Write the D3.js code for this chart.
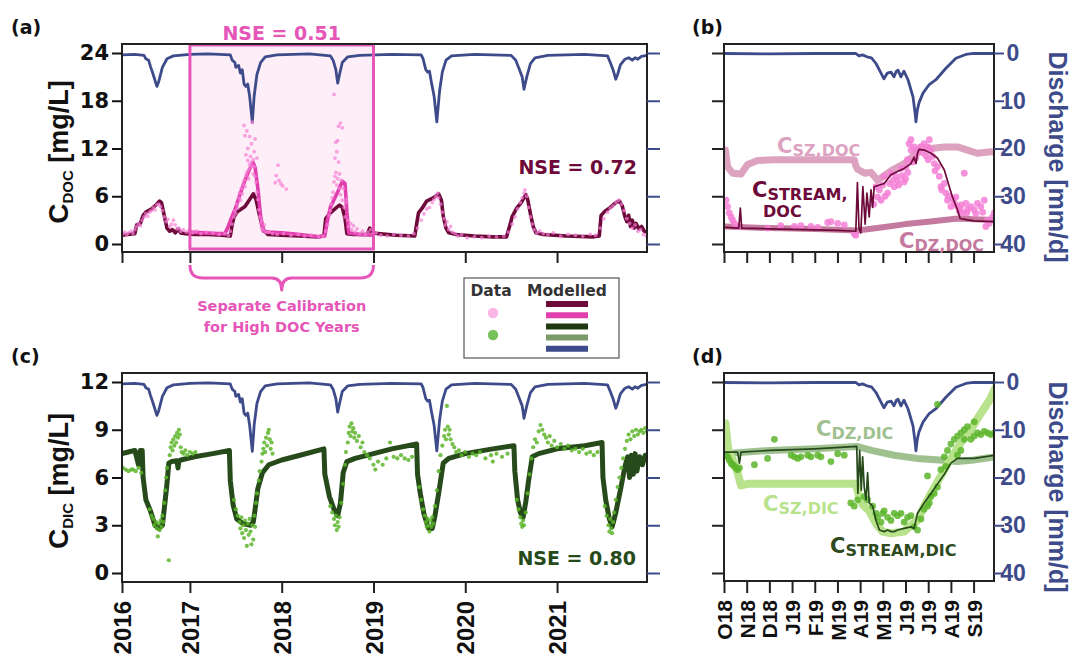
<!DOCTYPE html>
<html>
<head>
<meta charset="utf-8">
<script src="https://cdn.jsdelivr.net/npm/d3@7"></script>
<style>
  body { margin: 0; background: #fff; }
  svg { display: block; }
</style>
</head>
<body>
<svg id="fig" width="1073" height="657"></svg>
<script>
// ---- long record (panels a, c): [decimal year, value] ----
const qLong = [[2016.26,0.4],[2016.40,0.3],[2016.50,0.5],[2016.52,1.2],[2016.55,1.5],[2016.57,2.8],[2016.60,4.5],[2016.64,7.0],[2016.66,6.0],[2016.70,3.0],[2016.75,1.2],[2016.82,0.6],[2017.0,0.3],[2017.2,0.2],[2017.44,0.4],[2017.46,1.5],[2017.49,2.0],[2017.50,3.0],[2017.53,2.6],[2017.55,4.2],[2017.57,3.5],[2017.59,6.5],[2017.61,7.0],[2017.63,6.5],[2017.65,9.0],[2017.68,14.5],[2017.70,9.0],[2017.73,4.5],[2017.77,2.0],[2017.82,0.8],[2017.95,0.4],[2018.3,0.2],[2018.53,0.6],[2018.56,1.5],[2018.59,3.5],[2018.61,6.3],[2018.63,4.5],[2018.66,2.0],[2018.72,0.8],[2018.85,0.5],[2019.2,0.3],[2019.52,0.4],[2019.54,1.2],[2019.57,3.5],[2019.59,4.0],[2019.61,3.8],[2019.63,6.0],[2019.66,9.0],[2019.69,14.4],[2019.72,8.0],[2019.75,4.0],[2019.79,1.5],[2019.85,0.6],[2020.1,0.3],[2020.5,0.5],[2020.55,1.5],[2020.58,3.0],[2020.62,5.0],[2020.64,7.6],[2020.67,5.0],[2020.71,2.2],[2020.76,1.0],[2020.9,0.5],[2021.3,0.3],[2021.55,0.6],[2021.58,2.0],[2021.61,3.5],[2021.64,5.5],[2021.66,4.5],[2021.69,2.5],[2021.74,1.3],[2021.78,1.0],[2021.82,1.5],[2021.85,1.0],[2021.88,1.3],[2021.92,0.7],[2021.98,0.5]];

const docModelCal1 = [[2016.26,1.1],[2016.32,1.2],[2016.40,1.3],[2016.42,2.4],[2016.46,2.6],[2016.49,3.6],[2016.52,4.0],[2016.58,4.4],[2016.63,4.9],[2016.67,5.4],[2016.69,5.2],[2016.72,3.6],[2016.75,2.0],[2016.78,1.6],[2016.81,1.8],[2016.84,1.4],[2016.87,1.9],[2016.90,1.4],[2016.95,1.3],[2017.05,1.2],[2017.20,1.2],[2017.35,1.1],[2017.44,1.0],[2017.46,2.4],[2017.48,3.4],[2017.52,4.1],[2017.56,4.4],[2017.60,4.7],[2017.64,5.4],[2017.69,6.3],[2017.72,5.6],[2017.76,3.5],[2017.80,1.8],[2017.85,1.2],[2018.0,1.1],[2018.2,1.0],[2018.40,0.9],[2018.46,1.0],[2018.48,3.2],[2018.53,3.9],[2018.58,4.4],[2018.63,4.9],[2018.66,4.6],[2018.69,3.2],[2018.71,1.3],[2018.78,1.2],[2018.93,1.2],[2018.96,2.0],[2018.98,1.5],[2019.05,1.3],[2019.25,1.1],[2019.45,1.0],[2019.47,2.5],[2019.49,3.9],[2019.53,4.5],[2019.58,5.4],[2019.65,5.8],[2019.71,6.3],[2019.74,5.5],[2019.76,3.5],[2019.79,2.0],[2019.82,1.4],[2019.90,1.2],[2020.10,1.0],[2020.30,0.9],[2020.45,0.9],[2020.49,2.5],[2020.51,3.4],[2020.56,4.5],[2020.61,5.2],[2020.66,6.2],[2020.68,5.6],[2020.71,3.8],[2020.74,2.2],[2020.77,1.4],[2020.85,1.2],[2021.10,1.0],[2021.40,0.9],[2021.46,1.0],[2021.48,3.6],[2021.52,4.1],[2021.58,4.6],[2021.64,5.2],[2021.68,5.4],[2021.71,4.8],[2021.74,3.4],[2021.76,2.8],[2021.78,3.6],[2021.80,2.2],[2021.82,3.0],[2021.84,2.0],[2021.86,2.6],[2021.89,1.9],[2021.92,2.2],[2021.95,1.6],[2021.98,1.5]];

const docModelCal2 = [[2017.0,1.5],[2017.15,1.4],[2017.30,1.3],[2017.38,1.3],[2017.41,2.0],[2017.45,3.2],[2017.50,4.6],[2017.55,6.4],[2017.60,8.0],[2017.65,9.4],[2017.69,10.2],[2017.71,9.6],[2017.74,7.0],[2017.77,3.5],[2017.80,1.6],[2017.86,1.5],[2018.0,1.4],[2018.2,1.2],[2018.40,0.9],[2018.47,1.0],[2018.49,2.5],[2018.53,4.6],[2018.58,5.8],[2018.62,6.8],[2018.66,7.9],[2018.69,7.6],[2018.71,4.0],[2018.73,1.4],[2018.85,1.2],[2019.0,1.1]];

const docObs = [[2016.27,1.3],[2016.29,1.5],[2016.31,1.2],[2016.33,1.4],[2016.36,1.6],[2016.38,1.3],[2016.40,1.8],[2016.42,2.2],[2016.44,2.6],[2016.46,2.3],[2016.48,3.0],[2016.50,3.4],[2016.52,3.8],[2016.54,3.5],[2016.56,4.0],[2016.58,4.2],[2016.60,4.6],[2016.62,4.3],[2016.64,4.9],[2016.66,5.0],[2016.68,4.7],[2016.70,4.2],[2016.72,3.4],[2016.74,2.8],[2016.76,3.1],[2016.78,2.2],[2016.80,2.5],[2016.82,3.0],[2016.84,2.4],[2016.86,1.9],[2016.88,2.0],[2016.90,1.6],[2016.93,1.8],[2016.96,1.5],[2016.99,1.7],
[2017.03,1.4],[2017.07,1.6],[2017.12,1.3],[2017.18,1.5],[2017.25,1.4],[2017.32,1.2],[2017.38,1.3],[2017.42,1.1],[2017.44,1.6],[2017.46,2.5],[2017.48,3.4],[2017.49,4.2],[2017.50,3.8],[2017.51,5.0],[2017.52,4.5],[2017.53,5.8],[2017.54,6.4],[2017.55,5.5],[2017.56,7.0],[2017.57,6.3],[2017.58,7.5],[2017.59,8.0],[2017.59,14.9],[2017.60,7.2],[2017.60,13.6],[2017.61,8.6],[2017.61,11.2],[2017.62,9.0],[2017.62,14.2],[2017.63,10.5],[2017.63,12.0],[2017.64,9.3],[2017.64,8.2],[2017.65,10.0],[2017.65,13.5],[2017.66,11.0],[2017.66,9.6],[2017.67,10.3],[2017.67,12.6],[2017.68,9.8],[2017.68,15.3],[2017.69,10.6],[2017.69,8.8],[2017.70,9.7],[2017.70,11.6],[2017.71,8.5],[2017.71,13.2],[2017.72,7.8],[2017.73,6.5],[2017.73,10.8],[2017.74,5.6],[2017.75,4.3],[2017.76,3.4],[2017.77,2.6],[2017.78,2.0],[2017.78,3.0],[2017.80,1.8],[2017.81,2.4],[2017.83,1.5],
[2017.93,7.7],[2017.94,8.6],[2017.96,9.9],[2017.97,8.0],[2017.99,7.6],[2018.01,7.3],[2018.05,6.9],
[2017.86,1.5],[2017.90,1.3],[2017.95,1.2],[2018.02,1.3],[2018.10,1.1],[2018.18,1.2],[2018.25,1.0],[2018.32,1.1],[2018.40,0.9],[2018.45,1.0],
[2018.48,1.6],[2018.50,2.4],[2018.52,3.6],[2018.53,4.2],[2018.54,5.0],[2018.55,5.8],[2018.56,6.5],[2018.57,7.8],[2018.57,18.8],[2018.58,8.5],[2018.58,10.8],[2018.59,9.0],[2018.59,12.8],[2018.60,7.4],[2018.60,11.6],[2018.61,8.2],[2018.61,13.0],[2018.62,10.3],[2018.62,14.8],[2018.63,7.0],[2018.63,8.8],[2018.64,15.2],[2018.64,6.2],[2018.65,8.0],[2018.66,14.6],[2018.66,5.5],[2018.67,7.0],[2018.68,4.6],[2018.69,3.4],[2018.70,5.6],[2018.71,5.2],[2018.72,3.0],[2018.73,2.2],[2018.75,2.6],[2018.76,1.8],[2018.78,2.3],[2018.80,1.5],[2018.82,1.9],[2018.85,1.3],[2018.88,1.6],[2018.91,1.2],[2018.94,1.5],[2018.97,1.8],[2018.99,1.3],
[2019.03,1.4],[2019.08,1.1],[2019.15,1.0],[2019.22,1.2],[2019.30,1.1],[2019.38,1.0],[2019.44,1.3],[2019.48,2.0],[2019.52,3.0],[2019.55,3.8],[2019.58,4.4],[2019.61,4.6],[2019.64,5.2],[2019.66,5.6],[2019.68,6.0],[2019.70,6.4],[2019.71,5.8],[2019.73,5.0],[2019.75,4.0],[2019.77,3.2],[2019.78,2.4],[2019.80,2.8],[2019.82,1.8],[2019.84,2.2],[2019.86,1.5],[2019.89,1.3],[2019.92,1.0],[2019.96,1.2],[2020.02,0.8],[2020.10,0.9],[2020.18,0.8],[2020.26,1.0],[2020.34,0.9],[2020.42,1.0],
[2020.47,1.5],[2020.51,2.5],[2020.54,3.4],[2020.57,4.4],[2020.60,5.2],[2020.62,5.8],[2020.64,6.4],[2020.65,6.8],[2020.67,6.0],[2020.69,4.6],[2020.71,3.4],[2020.73,2.5],[2020.75,1.8],[2020.78,1.4],[2020.81,1.6],[2020.85,1.3],[2020.90,1.2],[2020.96,1.4],[2021.04,1.0],[2021.12,1.2],[2021.20,1.1],[2021.28,1.0],[2021.36,1.2],[2021.42,1.1],
[2021.47,2.0],[2021.51,3.2],[2021.55,4.0],[2021.58,4.5],[2021.61,4.8],[2021.64,5.2],[2021.67,5.5],[2021.70,5.0],[2021.73,4.2],[2021.76,3.2],[2021.79,2.6],[2021.82,2.0],[2021.85,2.4],[2021.88,1.6],[2021.91,1.8],[2021.94,1.2],[2021.97,1.0]];

const dicModel = [[2016.26,7.5],[2016.33,7.6],[2016.40,7.7],[2016.44,6.8],[2016.46,7.7],[2016.48,7.7],[2016.49,6.0],[2016.52,4.6],[2016.57,3.9],[2016.62,3.0],[2016.66,2.8],[2016.70,3.0],[2016.72,4.0],[2016.75,5.6],[2016.77,6.9],[2016.80,7.0],[2016.86,7.05],[2016.87,6.6],[2016.88,7.05],[2016.90,7.1],[2017.05,7.3],[2017.25,7.5],[2017.43,7.7],
[2017.44,5.8],[2017.47,4.3],[2017.51,3.4],[2017.58,3.1],[2017.66,3.0],[2017.69,3.2],[2017.71,4.0],[2017.74,5.3],[2017.79,6.3],[2017.86,6.8],[2018.0,7.1],[2018.2,7.4],[2018.46,7.8],
[2018.47,6.2],[2018.52,4.8],[2018.57,4.0],[2018.61,3.6],[2018.64,4.4],[2018.67,6.3],[2018.71,7.0],[2018.80,7.2],[2019.0,7.5],[2019.2,7.8],[2019.47,8.1],
[2019.48,6.2],[2019.51,5.0],[2019.55,3.7],[2019.60,2.8],[2019.64,2.8],[2019.67,3.6],[2019.71,5.0],[2019.76,6.9],[2019.82,7.2],[2020.0,7.5],[2020.3,7.8],[2020.53,8.0],
[2020.54,6.4],[2020.57,4.6],[2020.60,3.8],[2020.63,3.5],[2020.66,4.5],[2020.69,5.8],[2020.73,7.3],[2020.80,7.5],[2021.0,7.8],[2021.3,8.0],[2021.49,8.2],
[2021.50,6.0],[2021.53,4.6],[2021.57,3.4],[2021.60,2.9],[2021.64,3.8],[2021.69,5.2],[2021.74,6.7],[2021.77,7.3],[2021.79,6.0],[2021.81,7.4],[2021.83,6.2],[2021.85,7.5],[2021.87,6.4],[2021.90,7.3],[2021.93,6.8],[2021.96,7.4],[2021.98,7.4]];

const dicObs = [[2016.27,6.6],[2016.30,6.5],[2016.33,6.4],[2016.36,6.5],[2016.38,6.5],[2016.41,6.4],[2016.44,6.6],[2016.47,6.3],
[2016.56,4.0],[2016.58,3.6],[2016.60,3.4],[2016.61,3.0],[2016.63,3.2],[2016.64,2.8],[2016.65,2.3],[2016.66,3.1],[2016.67,2.7],[2016.68,3.3],[2016.69,2.9],[2016.70,3.6],[2016.71,3.2],[2016.72,4.4],[2016.73,5.2],[2016.74,6.0],[2016.75,6.6],[2016.77,0.8],
[2016.78,7.4],[2016.79,7.9],[2016.80,8.2],[2016.81,7.7],[2016.82,8.4],[2016.83,8.0],[2016.84,8.6],[2016.85,8.2],[2016.86,8.8],[2016.87,8.5],[2016.88,9.0],[2016.89,8.7],[2016.90,7.9],[2016.91,7.6],[2016.93,7.5],[2016.95,7.7],[2016.97,7.4],[2017.00,7.6],[2017.03,7.5],[2017.06,7.6],
[2017.48,4.6],[2017.50,4.0],[2017.52,3.6],[2017.54,3.2],[2017.55,2.8],[2017.56,3.5],[2017.57,2.5],[2017.58,3.0],[2017.59,2.2],[2017.60,3.3],[2017.61,2.7],[2017.62,1.7],[2017.63,3.1],[2017.64,2.4],[2017.65,3.4],[2017.66,2.6],[2017.67,1.8],[2017.68,3.0],[2017.69,2.1],[2017.70,3.6],[2017.71,2.9],[2017.72,4.4],[2017.73,5.0],[2017.75,5.8],[2017.76,6.4],[2017.78,7.0],[2017.79,7.5],[2017.80,7.8],[2017.81,8.2],[2017.82,7.6],[2017.83,8.5],[2017.84,8.0],[2017.85,8.8],[2017.86,9.0],[2017.87,8.4],[2017.88,7.8],[2017.89,8.2],[2017.90,7.5],
[2018.53,4.2],[2018.55,3.8],[2018.57,3.4],[2018.58,3.0],[2018.59,3.6],[2018.60,2.7],[2018.61,3.2],[2018.62,2.9],[2018.63,3.5],[2018.65,4.4],[2018.67,5.6],[2018.69,6.8],[2018.70,7.6],[2018.72,8.2],[2018.73,8.8],[2018.74,9.2],[2018.75,8.6],[2018.76,9.4],[2018.77,8.9],[2018.78,9.1],[2018.79,8.5],[2018.80,8.8],[2018.82,8.3],[2018.84,8.6],[2018.86,7.9],[2018.88,8.2],[2018.90,7.6],[2018.93,7.4],[2018.96,7.2],[2019.00,6.8],[2019.02,6.5],[2019.05,7.0],[2019.10,6.8],[2019.14,7.2],[2019.18,8.2],[2019.22,7.3],[2019.26,7.2],[2019.30,7.4],[2019.34,7.2],[2019.38,7.1],[2019.42,7.3],
[2019.50,5.4],[2019.52,4.6],[2019.54,4.0],[2019.56,3.6],[2019.57,3.2],[2019.58,2.9],[2019.59,3.4],[2019.60,3.0],[2019.61,2.6],[2019.62,3.3],[2019.63,2.9],[2019.64,3.5],[2019.65,3.1],[2019.67,4.2],[2019.69,5.2],[2019.71,6.4],[2019.73,7.4],[2019.75,8.0],[2019.77,8.6],[2019.78,9.0],[2019.79,8.4],[2019.80,10.5],[2019.81,9.2],[2019.82,8.7],[2019.83,9.0],[2019.84,8.4],[2019.86,8.1],[2019.88,7.9],[2019.90,7.6],[2019.93,7.7],[2019.96,7.4],[2020.00,7.6],[2020.04,7.3],[2020.08,7.5],[2020.12,7.4],[2020.16,7.6],[2020.22,7.2],[2020.28,7.4],[2020.30,7.0],[2020.34,7.5],[2020.40,7.3],[2020.46,7.5],
[2020.56,4.6],[2020.58,4.0],[2020.60,3.5],[2020.61,3.1],[2020.62,2.9],[2020.63,3.3],[2020.64,3.0],[2020.66,3.8],[2020.68,5.0],[2020.70,6.2],[2020.72,7.2],[2020.74,7.9],[2020.76,8.4],[2020.78,8.2],[2020.80,8.9],[2020.82,9.3],[2020.84,9.0],[2020.86,8.7],[2020.88,8.5],[2020.90,8.2],[2020.92,8.6],[2020.94,8.0],[2020.97,8.3],[2021.00,7.9],[2021.04,8.1],[2021.08,7.8],[2021.12,8.0],[2021.16,7.7],[2021.20,7.8],[2021.24,7.6],[2021.28,7.8],[2021.32,7.5],[2021.36,7.6],[2021.40,7.4],[2021.44,7.6],
[2021.52,4.2],[2021.54,3.6],[2021.56,3.0],[2021.57,2.6],[2021.58,3.4],[2021.59,2.8],[2021.60,2.5],[2021.61,3.2],[2021.62,3.8],[2021.64,4.6],[2021.66,5.4],[2021.68,6.0],[2021.70,6.6],[2021.72,7.2],[2021.74,7.8],[2021.76,8.3],[2021.78,8.7],[2021.80,8.4],[2021.82,8.9],[2021.84,8.6],[2021.86,9.0],[2021.88,8.7],[2021.90,8.9],[2021.92,9.0],[2021.94,8.8],[2021.96,9.1],[2021.98,8.9]];

// ---- water year Oct 2018 - Sep 2019 (panels b, d): [months since 1 Oct 2018, value] ----
const qShort = [[0,0.1],[2,0.2],[4,0.1],[5.8,0.1],[5.95,0.6],[6.1,0.4],[6.3,0.8],[6.5,1.0],[6.7,2.2],[6.92,4.2],[7.05,5.4],[7.2,4.2],[7.36,4.0],[7.49,5.0],[7.6,3.8],[7.67,3.6],[7.8,5.0],[7.93,3.8],[8.11,5.6],[8.33,9.2],[8.42,12.5],[8.46,14.4],[8.52,12.0],[8.59,10.5],[8.77,8.4],[9.03,6.7],[9.34,5.6],[9.78,3.2],[10.22,1.1],[10.66,0.3],[11.0,0.1],[11.95,0.1]];

const szDoc = [[0.06,11.8],[0.16,9.7],[0.38,8.9],[0.75,8.8],[1.04,10.0],[1.48,10.5],[2.22,10.6],[5.74,10.6],[5.81,9.8],[5.89,9.4],[6.2,8.9],[6.48,9.0],[6.77,8.0],[7.36,9.2],[7.94,10.1],[8.24,10.8],[8.68,12.2],[9.12,12.0],[9.71,12.2],[10.29,12.2],[10.73,11.8],[11.17,11.4],[11.76,11.6],[11.95,11.5]];
const dzDoc = [[0.06,2.2],[2,2.0],[4,1.9],[5.9,1.7],[7,2.1],[8,2.5],[9,2.8],[10.3,3.2],[11.0,3.1],[11.95,3.0]];
const streamDoc = [[0.06,2.1],[0.65,2.0],[0.72,4.5],[0.78,2.0],[2,1.9],[3.5,1.8],[5.0,1.7],[5.81,1.6],[5.88,7.7],[5.95,2.0],[6.03,1.4],[6.12,7.2],[6.22,2.5],[6.3,6.4],[6.4,3.4],[6.48,6.8],[6.55,4.6],[6.62,7.2],[7.06,7.6],[7.36,8.7],[7.65,9.1],[7.94,9.5],[8.24,10.1],[8.38,10.9],[8.46,10.1],[8.53,11.4],[8.60,11.9],[8.82,11.8],[9.12,11.4],[9.41,10.8],[9.71,9.3],[9.93,7.2],[10.07,5.9],[10.29,4.3],[10.41,3.2],[10.6,3.1],[11.03,2.9],[11.95,2.8]];
const docObsShort = [[0.09,5.5],[0.16,4.7],[0.23,3.9],[0.31,3.4],[0.38,3.0],[0.46,2.6],[0.60,2.2],[1.92,2.0],[2.5,2.3],[3.10,2.2],[3.39,2.3],[3.83,2.2],[4.13,2.1],[4.57,2.7],[4.71,2.8],[5.01,2.6],[5.30,2.4],[5.74,1.3],[5.81,1.1],
[6.6,5.0],[6.70,7.2],[6.77,5.9],[6.85,6.8],[6.92,5.5],[6.99,7.4],[7.06,8.5],[7.1,6.0],[7.21,6.4],[7.3,7.6],[7.36,8.9],[7.45,8.0],[7.50,7.2],[7.58,8.5],[7.65,8.0],[7.7,7.4],[7.80,9.5],[7.85,8.6],[7.94,7.8],[8.0,8.2],[8.02,9.7],[8.09,10.6],[8.1,9.0],[8.16,12.6],[8.24,11.8],[8.24,13.1],[8.3,10.3],[8.38,12.2],[8.45,10.8],[8.53,11.4],[8.6,11.9],[8.68,12.2],[8.75,11.5],[8.82,12.6],[8.9,11.1],[8.97,12.2],[9.0,10.6],[9.05,13.1],[9.12,11.8],[9.19,11.0],[9.27,10.1],[9.3,9.2],[9.41,9.7],[9.49,8.5],[9.56,7.2],[9.6,6.8],[9.71,7.6],[9.78,6.4],[9.85,5.5],[9.9,6.0],[10.0,4.7],[10.1,5.6],[10.15,5.1],[10.22,5.9],[10.29,4.7],[10.37,4.1],[10.4,4.5],[10.44,4.9],[10.51,3.9],[10.59,8.9],[10.66,5.1],[10.7,3.9],[10.73,4.3],[10.88,4.7],[11.03,4.3],[11.1,3.8],[11.17,5.1],[11.32,4.7],[11.4,4.0],[11.47,5.5],[11.54,2.2],[11.6,3.0],[11.69,2.6],[11.84,3.4],[11.91,3.9]];

const dzDic = [[0.06,7.5],[2,7.7],[4,7.8],[5.85,7.95],[6.5,7.7],[7.5,7.4],[8.5,7.2],[9.5,7.1],[10.3,7.0],[11.0,7.1],[11.95,7.3]];
const szDic = [[0.06,9.4],[0.19,7.7],[0.46,6.9],[0.60,6.3],[0.75,5.5],[1.04,5.6],[5.81,5.6],[5.96,4.8],[6.11,4.3],[6.40,3.9],[6.70,3.1],[6.99,2.6],[7.36,2.5],[7.94,2.6],[8.24,3.0],[8.53,3.3],[8.82,4.2],[9.12,5.0],[9.56,6.1],[9.85,6.85],[10.15,7.5],[10.44,8.2],[10.88,9.0],[11.17,9.7],[11.47,10.35],[11.76,11.0],[11.95,11.6]];
const streamDic = [[0.06,7.6],[0.6,7.6],[0.68,6.9],[0.75,7.6],[2,7.7],[4,7.8],[5.85,7.95],[5.9,5.0],[5.98,7.7],[6.05,5.2],[6.11,7.3],[6.18,5.4],[6.26,4.6],[6.33,6.3],[6.4,4.4],[6.55,4.2],[6.7,3.3],[6.85,2.7],[7.06,2.6],[7.21,2.7],[7.36,2.6],[7.50,2.6],[7.65,2.7],[7.94,2.8],[8.24,2.9],[8.38,2.8],[8.53,3.75],[8.82,4.4],[9.12,5.0],[9.41,5.6],[9.71,6.2],[10.0,6.9],[10.29,7.2],[11.03,7.2],[11.95,7.4]];
const dicObsShort = [[0.09,7.4],[0.16,7.3],[0.23,7.1],[0.31,6.9],[0.38,6.8],[0.46,6.7],[0.53,6.6],[0.60,6.5],[0.68,6.6],[1.34,6.8],[1.92,7.2],[2.22,8.4],[2.96,7.4],[3.10,7.3],[3.25,7.2],[3.39,7.3],[3.69,7.4],[3.83,7.3],[4.13,7.4],[4.27,7.3],[4.71,7.0],[5.01,7.5],[5.30,7.4],
[5.59,4.4],[5.74,4.2],[5.89,4.6],[6.18,4.8],[6.33,4.6],[6.55,4.2],[6.70,3.75],[6.77,3.5],[6.92,3.2],[6.99,3.75],[7.06,3.9],[7.21,3.5],[7.36,3.3],[7.50,3.75],[7.65,3.6],[7.80,3.75],[7.94,3.2],[8.09,3.5],[8.24,3.6],[8.38,2.9],[8.53,2.7],[8.68,3.4],[8.82,4.0],[8.97,4.2],[9.05,4.4],[9.12,4.8],[9.27,5.0],[8.97,6.1],[9.41,10.6],[9.41,5.4],[9.56,6.5],[9.71,7.3],[9.78,6.7],[9.85,7.7],[10.0,8.1],[10.15,8.4],[10.29,8.6],[10.29,7.4],[10.44,8.8],[10.44,7.7],[10.59,9.0],[10.59,8.4],[10.73,9.2],[10.88,8.4],[11.03,8.6],[11.03,9.5],[11.17,8.8],[11.32,8.7],[11.47,8.9],[11.62,8.8],[11.76,8.7],[11.91,8.8]];

// ---- ticks ----
const yearTicks = [2016.26, 2017, 2018, 2019, 2020, 2021];
const yearLabels = ["2016", "2017", "2018", "2019", "2020", "2021"];
const monthTicks = [0, 1, 2, 3, 4, 5, 6, 7, 8, 9, 10, 11];
const monthLabels = ["O18", "N18", "D18", "J19", "F19", "M19", "A19", "M19", "J19", "J19", "A19", "S19"];
const docTicks = [0, 6, 12, 18, 24];
const dicTicks = [0, 3, 6, 9, 12];
const qTicks = [0, 10, 20, 30, 40];

// colours
const NAVY = "#3e4b8a", MAROON = "#6d0a3a", PINK = "#e23fae", PINKDOT = "#f57fd5",
      DKGREEN = "#264a1a", GREENDOT = "#5cb52c", SZDOC = "#dca2c0", DZDOC = "#c47a9e",
      DZDIC = "#9fc190", SZDIC = "#b8e28c", ANNOT = "#e655b8";
const TICKFONT = "DejaVu Sans, Verdana, sans-serif";
const ARIAL = "Liberation Sans, Arial, sans-serif";

const svg = d3.select("#fig");
svg.append("rect").attr("width", 1073).attr("height", 657).attr("fill", "#fff");

// scales
const xLong = d3.scaleLinear().domain([2016.26, 2021.98]).range([122, 647]);
const xShort = d3.scaleLinear().domain([0, 11.9]).range([724, 994]);
const yDoc = d3.scaleLinear().domain([0, 24]).range([244, 53]);
const yQTop = d3.scaleLinear().domain([0, 40]).range([53, 244]);
const yDic = d3.scaleLinear().domain([0, 12]).range([573, 382]);
const yQBot = d3.scaleLinear().domain([0, 40]).range([382, 573]);

const panels = {
  a: {x0: 122, x1: 647, y0: 44, y1: 252},
  b: {x0: 724, x1: 994, y0: 44, y1: 252},
  c: {x0: 122, x1: 647, y0: 373, y1: 582},
  d: {x0: 724, x1: 994, y0: 373, y1: 581}
};

const defs = svg.append("defs");
Object.entries(panels).forEach(([k, p]) => {
  defs.append("clipPath").attr("id", "clip-" + k)
    .append("rect").attr("x", p.x0).attr("y", p.y0)
    .attr("width", p.x1 - p.x0).attr("height", p.y1 - p.y0);
});

function drawLine(g, data, x, y, color, w, opacity) {
  g.append("path")
    .datum(data)
    .attr("fill", "none")
    .attr("stroke", color)
    .attr("stroke-width", w)
    .attr("stroke-linejoin", "round")
    .attr("stroke-linecap", "round")
    .attr("opacity", opacity || 1)
    .attr("d", d3.line().x(d => x(d[0])).y(d => y(d[1])));
}

function drawDots(g, data, x, y, color, r, opacity) {
  g.selectAll(null)
    .data(data)
    .enter()
    .append("circle")
    .attr("cx", d => x(d[0]))
    .attr("cy", d => y(d[1]))
    .attr("r", r)
    .attr("fill", color)
    .attr("opacity", opacity);
}

function styleAxis(g, color, font, size) {
  g.select(".domain").remove();
  g.selectAll(".tick line").attr("stroke", color).attr("stroke-width", 2);
  g.selectAll(".tick text")
    .attr("fill", color)
    .style("font-family", font)
    .style("font-size", size + "px")
    .style("font-weight", "bold");
}

function frame(p) {
  svg.append("rect")
    .attr("x", p.x0).attr("y", p.y0)
    .attr("width", p.x1 - p.x0).attr("height", p.y1 - p.y0)
    .attr("fill", "none").attr("stroke", "#222").attr("stroke-width", 2);
}

// subscripted label, e.g. C_SZ,DOC
function subText(x, y, main, sub, color, fMain, fSub, shift) {
  const t = svg.append("text")
    .attr("x", x).attr("y", y)
    .attr("fill", color)
    .style("font-family", TICKFONT)
    .style("font-weight", "bold");
  t.append("tspan").style("font-size", fMain + "px").text(main);
  t.append("tspan").style("font-size", fSub + "px").attr("dy", shift).text(sub);
  return t;
}

// ================= panel (a) =================
const gA = svg.append("g").attr("clip-path", "url(#clip-a)");
// separate-calibration window
gA.append("rect")
  .attr("x", xLong(2017)).attr("y", 45)
  .attr("width", xLong(2019) - xLong(2017)).attr("height", 204)
  .attr("fill", "#fdeef8");
drawLine(gA, qLong, xLong, yQTop, NAVY, 2.8);
drawLine(gA, docModelCal1, xLong, yDoc, MAROON, 3.6);
drawLine(gA, docModelCal2, xLong, yDoc, PINK, 3.6);
drawDots(gA, docObs, xLong, yDoc, PINKDOT, 1.9, 0.7);
svg.append("rect")
  .attr("x", xLong(2017)).attr("y", 45)
  .attr("width", xLong(2019) - xLong(2017)).attr("height", 204)
  .attr("fill", "none").attr("stroke", ANNOT).attr("stroke-width", 3);
frame(panels.a);

const axAL = svg.append("g").attr("transform", "translate(122,0)")
  .call(d3.axisLeft(yDoc).tickValues(docTicks).tickSize(10).tickPadding(3));
styleAxis(axAL, "#111", TICKFONT, 21);
const axAR = svg.append("g").attr("transform", "translate(647,0)")
  .call(d3.axisRight(yQTop).tickValues(qTicks).tickSize(13).tickFormat(""));
styleAxis(axAR, NAVY, TICKFONT, 21);
const axAB = svg.append("g").attr("transform", "translate(0,252)")
  .call(d3.axisBottom(xLong).tickValues(yearTicks).tickSize(11).tickFormat(""));
styleAxis(axAB, "#222", TICKFONT, 21);

// ================= panel (c) =================
const gC = svg.append("g").attr("clip-path", "url(#clip-c)");
drawLine(gC, qLong, xLong, yQBot, NAVY, 2.8);
drawLine(gC, dicModel, xLong, yDic, DKGREEN, 5);
drawDots(gC, dicObs, xLong, yDic, GREENDOT, 2.1, 0.85);
frame(panels.c);

const axCL = svg.append("g").attr("transform", "translate(122,0)")
  .call(d3.axisLeft(yDic).tickValues(dicTicks).tickSize(10).tickPadding(3));
styleAxis(axCL, "#111", TICKFONT, 21);
const axCR = svg.append("g").attr("transform", "translate(647,0)")
  .call(d3.axisRight(yQBot).tickValues(qTicks).tickSize(13).tickFormat(""));
styleAxis(axCR, NAVY, TICKFONT, 21);
const axCB = svg.append("g").attr("transform", "translate(0,582)")
  .call(d3.axisBottom(xLong).tickValues(yearTicks).tickSize(11)
    .tickFormat((d, i) => yearLabels[i]));
styleAxis(axCB, "#222", ARIAL, 24);
axCB.selectAll(".tick text")
  .attr("transform", "rotate(-90)")
  .attr("text-anchor", "end")
  .attr("x", -19).attr("y", 0).attr("dy", "0.36em")
  .attr("fill", "#111");

// ================= panel (b) =================
const gB = svg.append("g").attr("clip-path", "url(#clip-b)");
drawLine(gB, qShort, xShort, yQTop, NAVY, 2.8);
drawLine(gB, szDoc, xShort, yDoc, SZDOC, 7);
drawLine(gB, dzDoc, xShort, yDoc, DZDOC, 6);
drawDots(gB, docObsShort, xShort, yDoc, PINKDOT, 3.4, 0.85);
drawLine(gB, streamDoc, xShort, yDoc, MAROON, 1.7);
frame(panels.b);

const axBL = svg.append("g").attr("transform", "translate(724,0)")
  .call(d3.axisLeft(yDoc).tickValues(docTicks).tickSize(12).tickFormat(""));
styleAxis(axBL, "#222", ARIAL, 22);
const axBR = svg.append("g").attr("transform", "translate(994,0)")
  .call(d3.axisRight(yQTop).tickValues(qTicks).tickSize(10));
styleAxis(axBR, NAVY, ARIAL, 23);
axBR.selectAll(".tick text").attr("text-anchor", "middle").attr("x", 19);
const axBB = svg.append("g").attr("transform", "translate(0,252)")
  .call(d3.axisBottom(xShort).tickValues(monthTicks).tickSize(11).tickFormat(""));
styleAxis(axBB, "#222", ARIAL, 21);

// ================= panel (d) =================
const gD = svg.append("g").attr("clip-path", "url(#clip-d)");
drawLine(gD, qShort, xShort, yQBot, NAVY, 2.8);
drawLine(gD, dzDic, xShort, yDic, DZDIC, 7);
drawLine(gD, szDic, xShort, yDic, SZDIC, 8);
drawDots(gD, dicObsShort, xShort, yDic, GREENDOT, 3.4, 0.85);
drawLine(gD, streamDic, xShort, yDic, DKGREEN, 1.7);
frame(panels.d);

const axDL = svg.append("g").attr("transform", "translate(724,0)")
  .call(d3.axisLeft(yDic).tickValues(dicTicks).tickSize(12).tickFormat(""));
styleAxis(axDL, "#222", ARIAL, 22);
const axDR = svg.append("g").attr("transform", "translate(994,0)")
  .call(d3.axisRight(yQBot).tickValues(qTicks).tickSize(10));
styleAxis(axDR, NAVY, ARIAL, 23);
axDR.selectAll(".tick text").attr("text-anchor", "middle").attr("x", 19);
const axDB = svg.append("g").attr("transform", "translate(0,581)")
  .call(d3.axisBottom(xShort).tickValues(monthTicks).tickSize(12)
    .tickFormat((d, i) => monthLabels[i]));
styleAxis(axDB, "#222", ARIAL, 21);
axDB.selectAll(".tick text")
  .attr("transform", "rotate(-90)")
  .attr("text-anchor", "end")
  .attr("x", -19).attr("y", 0).attr("dy", "0.36em")
  .attr("fill", "#111");

// ================= axis titles =================
function yTitle(cx, cy, sub) {
  const t = svg.append("text")
    .attr("transform", `translate(${cx},${cy}) rotate(-90)`)
    .attr("text-anchor", "middle")
    .attr("fill", "#111")
    .style("font-family", ARIAL)
    .style("font-weight", "bold");
  t.append("tspan").style("font-size", "28px").text("C");
  t.append("tspan").style("font-size", "15px").attr("dy", 5).text(sub);
  t.append("tspan").style("font-size", "27px").attr("dy", -5).text("\u00a0[mg/L]");
}
yTitle(68, 152, "DOC");
yTitle(68, 481, "DIC");

function qTitle(cx, cy) {
  svg.append("text")
    .attr("transform", `translate(${cx},${cy}) rotate(90)`)
    .attr("text-anchor", "middle")
    .attr("fill", NAVY)
    .style("font-family", ARIAL)
    .style("font-weight", "bold")
    .style("font-size", "25px")
    .text("Discharge [mm/d]");
}
qTitle(1049, 157);
qTitle(1049, 487);

// panel letters
[["(a)", 11, 34], ["(b)", 692, 34], ["(c)", 11, 363], ["(d)", 692, 363]].forEach(([s, x, y]) => {
  svg.append("text").attr("x", x).attr("y", y)
    .attr("fill", "#111")
    .style("font-family", TICKFONT).style("font-weight", "bold").style("font-size", "19px")
    .text(s);
});

// ================= annotations =================
function plainText(x, y, s, color, size, anchor) {
  svg.append("text").attr("x", x).attr("y", y)
    .attr("fill", color).attr("text-anchor", anchor || "start")
    .style("font-family", TICKFONT).style("font-weight", "bold").style("font-size", size + "px")
    .text(s);
}
const midCal = (xLong(2017) + xLong(2019)) / 2;
plainText(midCal, 40, "NSE = 0.51", ANNOT, 19, "middle");
plainText(637, 174, "NSE = 0.72", MAROON, 19, "end");
plainText(636, 565, "NSE = 0.80", DKGREEN, 19, "end");
plainText(midCal, 311, "Separate Calibration", ANNOT, 14.5, "middle");
plainText(midCal, 332, "for High DOC Years", ANNOT, 14.5, "middle");

// curly brace under the calibration window
(function () {
  const x1 = xLong(2017), x2 = xLong(2019), m = (x1 + x2) / 2;
  const y0 = 265, y1 = 278, y2 = 290;
  const p = `M${x1},${y0} Q${x1},${y1} ${x1 + 13},${y1} L${m - 10},${y1} Q${m},${y1} ${m},${y2}` +
            ` Q${m},${y1} ${m + 10},${y1} L${x2 - 13},${y1} Q${x2},${y1} ${x2},${y0}`;
  svg.append("path").attr("d", p).attr("fill", "none")
    .attr("stroke", ANNOT).attr("stroke-width", 3).attr("stroke-linejoin", "round");
})();

// series labels in (b) and (d)
subText(777, 153, "C", "SZ,DOC", SZDOC, 21, 16, 3);
subText(752, 197, "C", "STREAM,", MAROON, 21, 16, 3);
plainText(763, 217, "DOC", MAROON, 16);
subText(899, 248, "C", "DZ,DOC", DZDOC, 21, 16, 3);
subText(816, 436, "C", "DZ,DIC", DZDIC, 21, 16, 3);
subText(763, 511, "C", "SZ,DIC", SZDIC, 21, 16, 3);
subText(830, 553, "C", "STREAM,DIC", "#2e4a1e", 21, 16, 3);

// ================= legend =================
const lg = svg.append("g");
lg.append("rect").attr("x", 464).attr("y", 278).attr("width", 155).attr("height", 80)
  .attr("fill", "#fff").attr("stroke", "#555").attr("stroke-width", 1.2);
lg.append("text").attr("x", 491).attr("y", 296).attr("text-anchor", "middle")
  .attr("fill", "#333").style("font-family", TICKFONT).style("font-weight", "bold")
  .style("font-size", "15.5px").text("Data");
lg.append("text").attr("x", 567).attr("y", 296).attr("text-anchor", "middle")
  .attr("fill", "#333").style("font-family", TICKFONT).style("font-weight", "bold")
  .style("font-size", "15.5px").text("Modelled");
const legendDots = ["#fbb6e6", "#77c25a"];
lg.selectAll(".ldot").data(legendDots).enter().append("circle")
  .attr("cx", 493).attr("cy", (d, i) => 313 + i * 22).attr("r", 5.2).attr("fill", d => d);
const legendLines = [MAROON, PINK, "#1f3a12", "#7a9a6a", NAVY];
lg.selectAll(".lline").data(legendLines).enter().append("line")
  .attr("x1", 546).attr("x2", 588)
  .attr("y1", (d, i) => 304 + i * 11.2).attr("y2", (d, i) => 304 + i * 11.2)
  .attr("stroke", d => d).attr("stroke-width", 6);
</script>
</body>
</html>
